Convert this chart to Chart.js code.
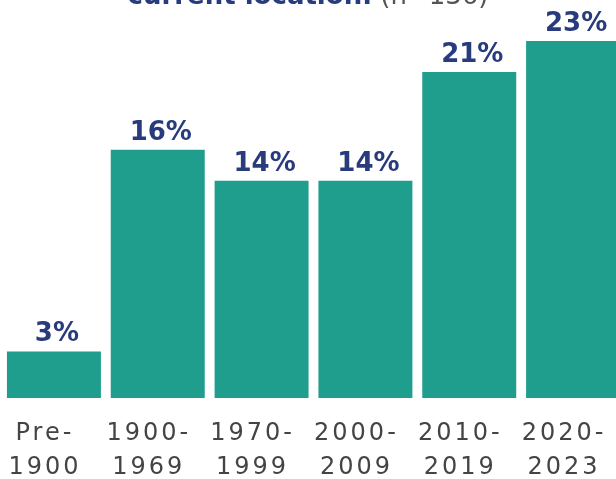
<!DOCTYPE html>
<html><head><meta charset="utf-8">
<script src="https://cdn.jsdelivr.net/npm/chart.js@4"></script>
<style>
html,body{margin:0;padding:0;background:#fff;overflow:hidden;width:616px;height:479px;}
#wrap{position:relative;width:616px;height:479px;overflow:hidden;}
#c{position:absolute;left:0;top:0;}
#title{position:absolute;left:0;width:616px;top:-20px;text-align:center;font-family:"DejaVu Sans",sans-serif;font-size:26px;white-space:nowrap;}
#title b{color:#283b7c;font-weight:bold;}
#title span{color:#555;}
</style></head>
<body>
<div id="wrap">
<canvas id="c" width="630" height="504"></canvas>
<div id="title"><b>current location.</b> <span>(n=136)</span></div>
</div>
<script>
const categories = [["Pre-","1900"],["1900-","1969"],["1970-","1999"],["2000-","2009"],["2010-","2019"],["2020-","2023"]];
const values = [3,16,14,14,21,23];
const valueLabels = ["3%","16%","14%","14%","21%","23%"];

const spacingPlugin = {
  id:'spacing',
  beforeDraw(chart){ chart.ctx.letterSpacing = '3px'; }
};
const labelPlugin = {
  id:'valLabels',
  afterDatasetsDraw(chart){
    const ctx = chart.ctx;
    const meta = chart.getDatasetMeta(0);
    ctx.save();
    ctx.letterSpacing = '0px';
    ctx.font = "bold 26px 'DejaVu Sans', sans-serif";
    ctx.fillStyle = "#283b7c";
    ctx.textAlign = "center";
    ctx.textBaseline = "alphabetic";
    meta.data.forEach((bar,i)=>{
      ctx.fillText(valueLabels[i], bar.x + 3, bar.y - 10);
    });
    ctx.restore();
  }
};

new Chart(document.getElementById('c'),{
  type:'bar',
  data:{labels:categories,datasets:[{data:values,backgroundColor:'#1f9e8d',barPercentage:0.905,categoryPercentage:1}]},
  options:{
    responsive:false,animation:false,
    layout:{padding:{left:2,right:5,top:10,bottom:0}},
    plugins:{legend:{display:false},tooltip:{enabled:false},title:{display:false}},
    scales:{
      y:{display:false,min:0,max:25},
      x:{grid:{display:false,drawTicks:false},border:{display:false},
         ticks:{color:'#444',font:{family:"'DejaVu Sans', sans-serif",size:24,lineHeight:'34px'},padding:19,labelOffset:-9,maxRotation:0,autoSkip:false}}
    }
  },
  plugins:[spacingPlugin,labelPlugin]
});
</script>
</body></html>
